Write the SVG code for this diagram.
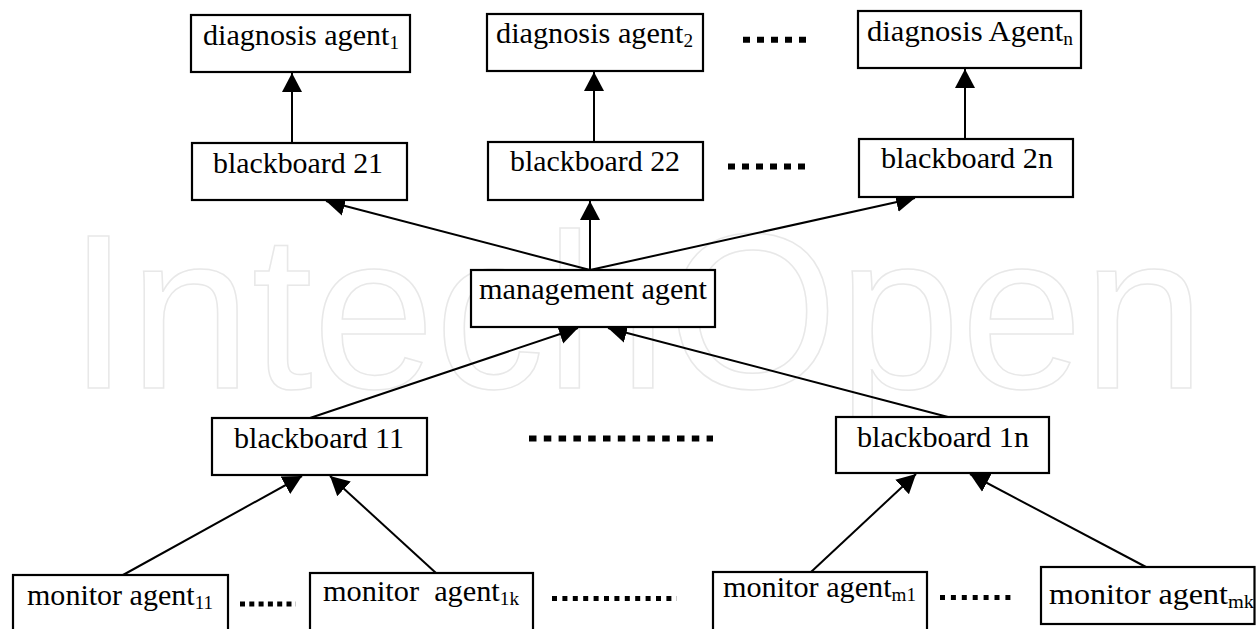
<svg xmlns="http://www.w3.org/2000/svg" width="1256" height="629" viewBox="0 0 1256 629">
<defs>
<marker id="ah" markerUnits="userSpaceOnUse" markerWidth="22" markerHeight="22" viewBox="0 0 22 22" refX="19" refY="11" orient="auto">
<path d="M0,1 L19,11 L0,21 Z" fill="#000"/>
</marker>
</defs>
<style>
.box{fill:#fff;stroke:#000;stroke-width:2.2}
.t{font-family:"Liberation Serif","Times New Roman",serif;font-size:30px;fill:#000}
.s{font-size:19px}
.c{stroke:#000;stroke-width:2;fill:none;marker-end:url(#ah)}
.dl{stroke:#000;stroke-width:6;stroke-dasharray:7 7;fill:none}
.ds{stroke:#000;stroke-width:5;fill:none}
.wm{font-family:"Liberation Sans",Arial,sans-serif;font-size:220px;fill:none;stroke:#e8e8e8;stroke-width:1.5}
</style>
<rect width="1256" height="629" fill="#fff"/>
<text class="wm" x="68" y="388" textLength="1137" lengthAdjust="spacingAndGlyphs">IntechOpen</text>
<g id="connectors">
<line class="c" x1="292" y1="143" x2="292" y2="73"/>
<line class="c" x1="594" y1="142" x2="594" y2="72"/>
<line class="c" x1="965" y1="139" x2="965" y2="69"/>
<line class="c" x1="590" y1="270" x2="326" y2="201"/>
<line class="c" x1="590" y1="270" x2="590" y2="201"/>
<line class="c" x1="590" y1="270" x2="915" y2="198"/>
<line class="c" x1="310" y1="418" x2="578" y2="328"/>
<line class="c" x1="948" y1="417" x2="608" y2="328"/>
<line class="c" x1="123" y1="575" x2="302" y2="476"/>
<line class="c" x1="436" y1="573" x2="330" y2="476"/>
<line class="c" x1="811" y1="572" x2="916" y2="474"/>
<line class="c" x1="1146" y1="567" x2="970" y2="474"/>
</g>
<g id="dots">
<line class="dl" x1="743" y1="39.7" x2="808" y2="39.7"/>
<line class="dl" x1="728" y1="166.5" x2="810" y2="166.5"/>
<line class="dl" x1="529" y1="438.5" x2="713" y2="438.5" style="stroke-dasharray:7.5 7.3"/>
<line class="ds" x1="240" y1="604" x2="296" y2="604" style="stroke-dasharray:5 4.3"/>
<line class="ds" x1="552" y1="598.5" x2="677" y2="598.5" style="stroke-dasharray:5 5.4"/>
<line class="ds" x1="940" y1="597.5" x2="1016" y2="597.5" style="stroke-dasharray:5 5.9"/>
</g>
<g id="diag1"><rect class="box" x="191" y="15" width="219" height="57"/>
<text class="t" x="203" y="45" textLength="196" lengthAdjust="spacingAndGlyphs">diagnosis agent<tspan class="s" dy="4">1</tspan></text></g>
<g id="diag2"><rect class="box" x="487" y="14" width="216" height="57"/>
<text class="t" x="496" y="43" textLength="197" lengthAdjust="spacingAndGlyphs">diagnosis agent<tspan class="s" dy="4">2</tspan></text></g>
<g id="diagn"><rect class="box" x="858" y="11" width="223" height="57"/>
<text class="t" x="867" y="41" textLength="206" lengthAdjust="spacingAndGlyphs">diagnosis Agent<tspan class="s" dy="4">n</tspan></text></g>
<g id="bb21"><rect class="box" x="192" y="143" width="215" height="57"/>
<text class="t" x="213" y="173" textLength="170" lengthAdjust="spacingAndGlyphs">blackboard 21</text></g>
<g id="bb22"><rect class="box" x="488" y="142" width="215" height="58"/>
<text class="t" x="510" y="171" textLength="170" lengthAdjust="spacingAndGlyphs">blackboard 22</text></g>
<g id="bb2n"><rect class="box" x="859" y="139" width="214" height="58"/>
<text class="t" x="881" y="168" textLength="172" lengthAdjust="spacingAndGlyphs">blackboard 2n</text></g>
<g id="mgmt"><rect class="box" x="471" y="270" width="244" height="57"/>
<text class="t" x="479" y="299" textLength="228" lengthAdjust="spacingAndGlyphs">management agent</text></g>
<g id="bb11"><rect class="box" x="212" y="418" width="215" height="57"/>
<text class="t" x="234" y="448" textLength="170" lengthAdjust="spacingAndGlyphs">blackboard 11</text></g>
<g id="bb1n"><rect class="box" x="836" y="417" width="213" height="56"/>
<text class="t" x="857" y="447" textLength="172" lengthAdjust="spacingAndGlyphs">blackboard 1n</text></g>
<g id="m11"><rect class="box" x="13" y="575" width="215" height="70"/>
<text class="t" x="27" y="605" textLength="186" lengthAdjust="spacingAndGlyphs">monitor agent<tspan class="s" dy="4">11</tspan></text></g>
<g id="m1k"><rect class="box" x="310" y="573" width="223" height="70"/>
<text class="t" x="323" y="601" textLength="196" lengthAdjust="spacingAndGlyphs" xml:space="preserve">monitor  agent<tspan class="s" dy="4">1k</tspan></text></g>
<g id="mm1"><rect class="box" x="713" y="572" width="214" height="70"/>
<text class="t" x="723" y="597" textLength="193" lengthAdjust="spacingAndGlyphs">monitor agent<tspan class="s" dy="4">m1</tspan></text></g>
<g id="mk"><rect class="box" x="1041" y="567" width="213.5" height="57"/>
<text class="t" x="1049" y="604" textLength="205" lengthAdjust="spacingAndGlyphs">monitor agent<tspan class="s" dy="4">mk</tspan></text></g>
</svg>
